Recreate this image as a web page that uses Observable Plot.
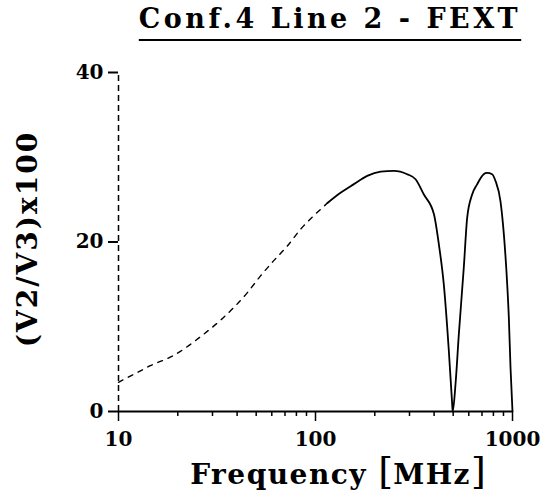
<!DOCTYPE html>
<html>
<head>
<meta charset="utf-8">
<script src="https://cdn.jsdelivr.net/npm/d3@7"></script>
<script src="https://cdn.jsdelivr.net/npm/@observablehq/plot@0.6"></script>
<style>
  html, body { margin: 0; padding: 0; background: #fff; }
  #wrap { position: relative; width: 547px; height: 497px; overflow: hidden; font-family: "DejaVu Serif", serif; font-weight: bold; color: #000; }
  #title { position: absolute; left: 0; width: 660px; top: 3px; text-align: center; font-size: 27px; letter-spacing: 3.5px; white-space: nowrap; }
  #title span { text-decoration: underline; text-decoration-thickness: 2px; text-underline-offset: 11px; }
  #xlabel { position: absolute; left: 48px; width: 580px; top: 452px; text-align: center; font-size: 28px; letter-spacing: 1.5px; white-space: nowrap; line-height: 1; }
  #xlabel .br { font-size: 38px; font-weight: normal; letter-spacing: 0; }
  #ylabel { position: absolute; left: 27px; top: 239px; transform: translate(-50%, -50%) rotate(-90deg); font-size: 28px; letter-spacing: 2px; white-space: nowrap; }
</style>
</head>
<body>
<div id="wrap">
  <div id="chart"></div>
  <div id="title"><span>Conf.4 Line 2 - FEXT</span></div>
  <div id="xlabel">Frequency <span class="br">[</span>MHz<span class="br">]</span></div>
  <div id="ylabel">(V2/V3)x100</div>
</div>
<script>
// Frequency in MHz and (V2/V3)x100
const freq = [10, 12, 14.5, 19, 27, 32.7, 45, 52.6, 61.4, 71.8, 84, 98, 115, 134, 156, 183, 214, 250, 292, 322, 355, 399, 423, 448, 475, 494, 497, 514, 534, 566, 589, 624, 661, 714, 743, 788, 820, 869, 904, 940, 958, 977, 1000];
const ratio = [3.45, 4.4, 5.4, 6.6, 9.1, 10.7, 14.0, 16.0, 17.8, 19.5, 21.5, 23.1, 24.6, 25.8, 26.8, 27.8, 28.3, 28.4, 28.0, 27.4, 25.6, 23.3, 19.7, 15.0, 7.2, 0.9, 0, 3.3, 9.1, 17.0, 22.9, 25.6, 26.8, 28.0, 28.15, 28.0, 27.2, 24.8, 20.9, 15.0, 11.1, 5.2, 0];
const xMajor = [10, 100, 1000];
const xMinor = [20, 30, 40, 50, 60, 70, 80, 90, 200, 300, 400, 500, 600, 700, 800, 900];
const yTicks = [0, 20, 40];

const data = freq.map((f, i) => ({f, v: ratio[i]}));

const chart = Plot.plot({
  width: 547,
  height: 497,
  marginLeft: 118,
  marginRight: 35,
  marginTop: 72,
  marginBottom: 86,
  style: {fontFamily: "DejaVu Serif", fontWeight: "bold", fontSize: "20px", color: "#000", background: "#fff"},
  x: {type: "log", domain: [10, 1000], label: null},
  y: {domain: [0, 40], label: null},
  marks: [
    Plot.axisX(xMinor, {tickSize: 5, text: null, label: null, strokeWidth: 1.5}),
    Plot.axisX(xMajor, {tickSize: 10, tickPadding: 10, label: null, tickFormat: d => String(d), strokeWidth: 1.5, fontSize: 20}),
    Plot.axisY(yTicks, {tickSize: 10, tickPadding: 5, label: null, strokeWidth: 2, fontSize: 20, tickFormat: d => String(d)}),
    Plot.ruleY([0], {x1: 10, x2: 1000, strokeWidth: 2}),
    Plot.ruleX([10], {y1: 0, y2: 40, strokeWidth: 1.5, strokeDasharray: "6,4"}),
    Plot.line(data.filter(d => d.f <= 120), {x: "f", y: "v", curve: "monotone-x", strokeWidth: 1.4, strokeDasharray: "5,6"}),
    Plot.line(data.filter(d => d.f >= 115), {x: "f", y: "v", curve: "monotone-x", strokeWidth: 1.8})
  ]
});
document.getElementById("chart").appendChild(chart);
</script>
</body>
</html>
